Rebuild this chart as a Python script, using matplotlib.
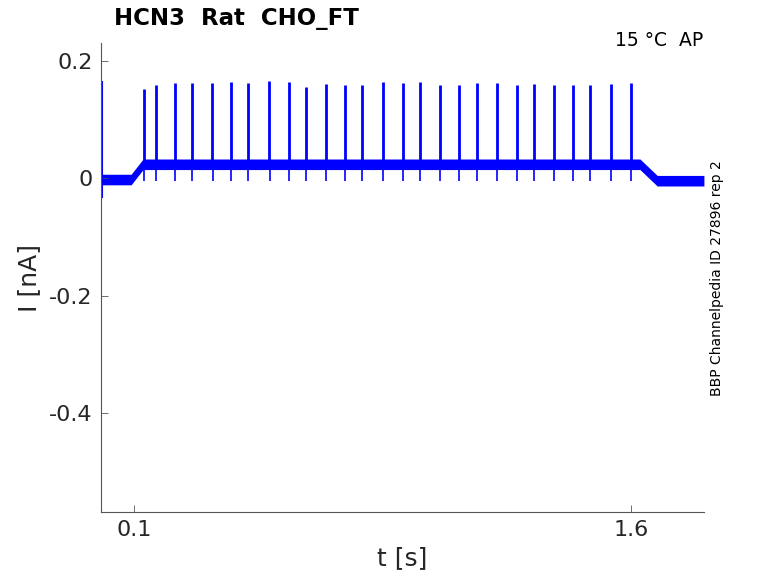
import numpy as np
import matplotlib
matplotlib.use("Agg")
import matplotlib.pyplot as plt

plt.rcParams['font.family'] = ['DejaVu Sans']
plt.rcParams['axes.unicode_minus'] = False

# niveles de la corriente (tramos del escalón)
t_nivel = [0.0, 0.091, 0.127, 1.627, 1.679, 1.82]
i_nivel = [-0.002, -0.002, 0.024, 0.024, -0.004, -0.004]
ruido = 0.009  # semiancho de la banda de ruido

# transitorio inicial
t_trans = [0.002]
i_trans_max = [0.166]
i_trans_min = [-0.033]

# potenciales de acción (tiempos y picos)
t_picos = [0.1293, 0.1655, 0.2237, 0.2741, 0.3363, 0.3928, 0.4441, 0.5083, 0.5669,
           0.6191, 0.6795, 0.7359, 0.7881, 0.8515, 0.9119, 0.9623, 1.0235, 1.0809,
           1.1352, 1.1956, 1.2550, 1.3073, 1.3676, 1.4250, 1.4763, 1.5397, 1.5991]
i_picos = [0.153, 0.159, 0.163, 0.163, 0.163, 0.165, 0.163, 0.166, 0.165,
           0.156, 0.161, 0.160, 0.160, 0.164, 0.163, 0.165, 0.160, 0.160,
           0.162, 0.163, 0.160, 0.161, 0.160, 0.160, 0.159, 0.161, 0.163]
i_valles = -0.005  # mínimo del rebote tras cada pico
plateau = 0.024

xticks = [0.1, 1.6]
xticklabels = ['0.1', '1.6']
yticks = [0.2, 0, -0.2, -0.4]
yticklabels = ['0.2', '0', '-0.2', '-0.4']

fig = plt.figure(figsize=(7.78, 5.83), dpi=100)
ax = fig.add_axes([0.1298, 0.1218, 0.7751, 0.8044])

azul = '#0000ff'
t_nivel = np.array(t_nivel)
i_nivel = np.array(i_nivel)
ax.fill_between(t_nivel, i_nivel - ruido, i_nivel + ruido, color=azul, lw=0)
ax.plot(t_nivel, i_nivel, color=azul, lw=1)
ax.vlines(t_trans, i_trans_min, i_trans_max, color=azul, lw=1.5)
ax.vlines(t_picos, plateau, i_picos, color=azul, lw=2.0)
ax.vlines(np.array(t_picos) + 0.001, i_valles, plateau, color=azul, lw=1.2)

ax.set_xlim(0.0, 1.8203)
ax.set_ylim(-0.5687, 0.2307)
ax.set_xticks(xticks)
ax.set_xticklabels(xticklabels)
ax.set_yticks(yticks)
ax.set_yticklabels(yticklabels)

gris = '#262626'
for lado in ['top', 'right']:
    ax.spines[lado].set_visible(False)
for lado in ['left', 'bottom']:
    ax.spines[lado].set_color('#555555')
    ax.spines[lado].set_linewidth(0.8)
ax.tick_params(direction='in', length=5, width=0.6, color='#555555',
               labelsize=16, labelcolor=gris, pad=6)

ax.set_xlabel('t [s]', fontsize=18, color=gris, labelpad=4)
ax.set_ylabel('I [nA]', fontsize=18, color=gris, labelpad=6)

fig.text(114 / 778, 1 - 18 / 583, 'HCN3  Rat  CHO_FT', fontsize=16.5, fontweight='bold',
         ha='left', va='center', color='black')
fig.text(703 / 778, 1 - 41 / 583, '15 °C  AP', fontsize=13.5, ha='right', va='center',
         color='black')
fig.text(717 / 778, 1 - 278 / 583, 'BBP Channelpedia ID 27896 rep 2', fontsize=10,
         rotation=90, ha='center', va='center', color='black')

fig.savefig('out.png', dpi=100)
